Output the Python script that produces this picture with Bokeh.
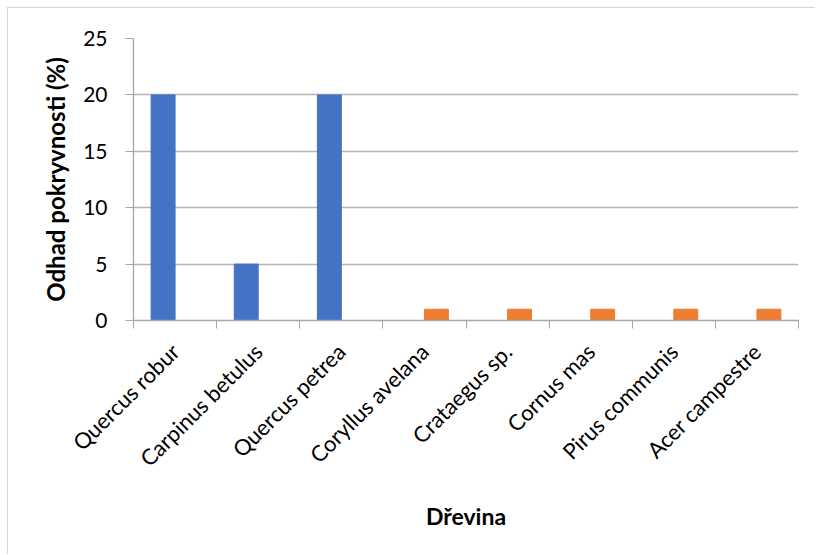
import numpy as np
from bokeh.plotting import figure
from bokeh.models import ColumnDataSource, Range1d, FixedTicker
from bokeh.transform import dodge
from bokeh.embed import file_html
from bokeh.resources import INLINE
from math import pi

# ---- data ----
species = ["Quercus robur", "Carpinus betulus", "Quercus petrea", "Coryllus avelana",
           "Crataegus sp.", "Cornus mas", "Pirus communis", "Acer campestre"]
series1 = [20, 5, 20, np.nan, np.nan, np.nan, np.nan, np.nan]
series2 = [np.nan, np.nan, np.nan, 1, 1, 1, 1, 1]
y_ticks = [0, 5, 10, 15, 20, 25]
y_title = "Odhad pokryvnosti (%)"
x_title = "Dřevina"

n = len(species)
centers = [i + 0.5 for i in range(n)]
bounds = list(range(n + 1))

source = ColumnDataSource(dict(x=centers, s1=series1, s2=series2, name=species))

FONT = "Lato"
GRID = "#b5b5b5"
AXIS = "#a6a6a6"

p = figure(width=808, height=547, output_backend="svg", toolbar_location=None,
           x_range=Range1d(0, n), y_range=Range1d(y_ticks[0], y_ticks[-1]),
           min_border_left=125, min_border_right=18, min_border_top=30,
           min_border_bottom=235, outline_line_color=None,
           background_fill_color="white", border_fill_color="white")
p.styles = {"border-left": "1px solid #d4d4d4", "border-top": "1px solid #d4d4d4",
            "margin-left": "7px", "margin-top": "7px"}

bw = 0.288
p.vbar(x=dodge("x", -bw / 2), top="s1", width=bw, source=source,
       fill_color="#4472C4", line_color="#4472C4")
p.vbar(x=dodge("x", bw / 2), top="s2", width=bw, source=source,
       fill_color="#ED7D31", line_color="#ED7D31")

# x axis
xa = p.xaxis[0]
xa.ticker = FixedTicker(ticks=centers, minor_ticks=bounds)
xa.major_label_overrides = {c: s for c, s in zip(centers, species)}
xa.major_label_orientation = pi / 4
xa.major_tick_line_color = None
xa.major_tick_out = 0
xa.major_tick_in = 0
xa.minor_tick_line_color = AXIS
xa.minor_tick_out = 8
xa.minor_tick_in = 0
xa.axis_line_color = AXIS
xa.axis_line_width = 1.3
xa.major_label_text_font = FONT
xa.major_label_text_font_size = "22px"
xa.major_label_text_color = "#000000"
xa.major_label_standoff = 19
xa.axis_label = x_title
xa.axis_label_text_font = FONT
xa.axis_label_text_font_style = "bold"
xa.axis_label_text_font_size = "23px"
xa.axis_label_text_color = "#000000"
xa.axis_label_standoff = 18

# y axis
ya = p.yaxis[0]
ya.ticker = FixedTicker(ticks=y_ticks)
ya.major_tick_out = 8
ya.major_tick_in = 0
ya.major_tick_line_color = AXIS
ya.minor_tick_line_color = None
ya.axis_line_color = AXIS
ya.axis_line_width = 1.3
ya.major_label_text_font = FONT
ya.major_label_text_font_size = "21px"
ya.major_label_text_color = "#000000"
ya.major_label_standoff = 18
ya.axis_label = y_title
ya.axis_label_text_font = FONT
ya.axis_label_text_font_style = "bold"
ya.axis_label_text_font_size = "24px"
ya.axis_label_text_color = "#000000"
ya.axis_label_standoff = 10

p.xgrid.grid_line_color = None
p.ygrid.ticker = FixedTicker(ticks=y_ticks)
p.ygrid.grid_line_color = GRID
p.ygrid.grid_line_width = 1.3

open("out.html", "w").write(file_html(p, INLINE))
